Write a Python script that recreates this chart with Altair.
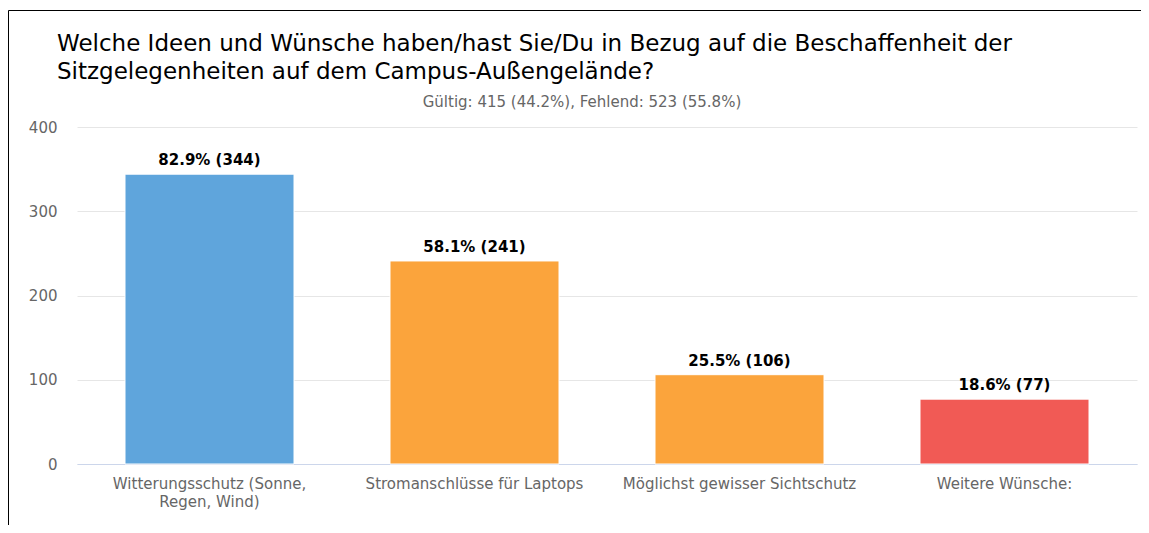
import altair as alt
import pandas as pd

categories = [
    "Witterungsschutz (Sonne, Regen, Wind)",
    "Stromanschlüsse für Laptops",
    "Möglichst gewisser Sichtschutz",
    "Weitere Wünsche:",
]
counts = [344, 241, 106, 77]
percents = [82.9, 58.1, 25.5, 18.6]
colors = ["#5fa5dc", "#fba43c", "#f15a55"]
color_keys = ["blue", "orange", "orange", "red"]

title_lines = [
    "Welche Ideen und Wünsche haben/hast Sie/Du in Bezug auf die Beschaffenheit der",
    "Sitzgelegenheiten auf dem Campus-Außengelände?",
]
subtitle = "Gültig: 415 (44.2%), Fehlend: 523 (55.8%)"
y_ticks = [0, 100, 200, 300, 400]

FONT = "DejaVu Sans"

df = pd.DataFrame({
    "cat": categories,
    "count": counts,
    "pct": percents,
    "ckey": color_keys,
})
df["label"] = df.apply(lambda r: f"{r['pct']:.1f}% ({r['count']})", axis=1)

label_expr = (
    "datum.label == 'Witterungsschutz (Sonne, Regen, Wind)' ? "
    "['Witterungsschutz (Sonne,', 'Regen, Wind)'] : datum.label"
)

x = alt.X(
    "cat:N",
    sort=categories,
    title=None,
    scale=alt.Scale(paddingInner=0, paddingOuter=0),
    axis=alt.Axis(
        labelAngle=0,
        labelColor="#666666",
        labelFontSize=15,
        labelFont=FONT,
        labelPadding=12,
        labelLineHeight=18,
        labelLimit=400,
        ticks=False,
        domainColor="#ccd6eb",
        domainWidth=1,
        grid=False,
        labelExpr=label_expr,
    ),
)
y = alt.Y(
    "count:Q",
    title=None,
    scale=alt.Scale(domain=[0, 400], nice=False),
    axis=alt.Axis(
        values=y_ticks,
        labelColor="#666666",
        labelFontSize=15,
        labelFont=FONT,
        labelPadding=20,
        ticks=False,
        domain=False,
        gridColor="#e6e6e6",
        gridWidth=1,
    ),
)

bars = alt.Chart(df).mark_bar(width=169, stroke="white", strokeWidth=1).encode(
    x=x,
    y=y,
    color=alt.Color(
        "ckey:N",
        scale=alt.Scale(domain=["blue", "orange", "red"], range=colors),
        legend=None,
    ),
)

labels = alt.Chart(df).mark_text(
    font=FONT, fontSize=15, fontWeight="bold", color="#000000",
    baseline="alphabetic", dy=-9,
).encode(
    x=alt.X("cat:N", sort=categories),
    y="count:Q",
    text="label:N",
)

one = pd.DataFrame({"a": [0]})

title = alt.Chart(one).mark_text(
    font=FONT, fontSize=23, color="#000000", align="left",
    baseline="alphabetic", lineHeight=28,
).encode(x=alt.value(-20), y=alt.value(-76), text=alt.value(title_lines))

sub = alt.Chart(one).mark_text(
    font=FONT, fontSize=15, color="#666666", align="center",
    baseline="alphabetic",
).encode(x=alt.value(505), y=alt.value(-20), text=alt.value(subtitle))

border_left = alt.Chart(one).mark_rule(color="#000000", strokeWidth=1).encode(
    x=alt.value(-68.5), y=alt.value(-116.5), y2=alt.value(540)
)
border_top = alt.Chart(one).mark_rule(color="#000000", strokeWidth=1).encode(
    x=alt.value(-68.5), x2=alt.value(1200), y=alt.value(-116.5)
)

chart = alt.layer(bars, labels, title, sub, border_left, border_top).properties(
    width=1060,
    height=337,
    autosize=alt.AutoSizeParams(type="none"),
    padding={"left": 69, "top": 119, "right": 4, "bottom": 61},
).configure(font=FONT).configure_view(stroke=None)

chart.save("out.html", embed_options={"renderer": "svg", "actions": False})
